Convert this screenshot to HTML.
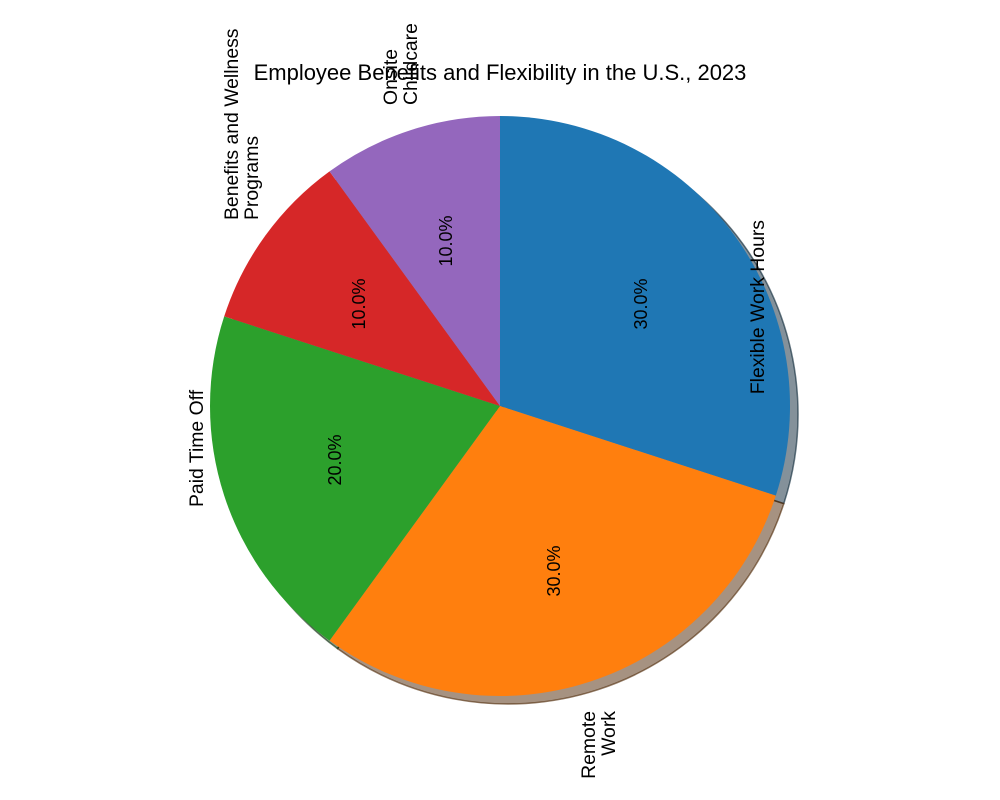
<!DOCTYPE html>
<html><head><meta charset="utf-8"><style>
html,body{margin:0;padding:0;background:#fff;}
#wrap{position:relative;width:1000px;height:800px;font-family:"Liberation Sans",Arial,sans-serif;overflow:hidden;}
.anc{position:absolute;width:0;height:0;}
.lbl{position:absolute;left:0;writing-mode:vertical-rl;white-space:pre;font-size:19.4px;line-height:20px;color:#000;}
.pct{font-size:18px;}
#title{position:absolute;left:0;width:1000px;top:60px;text-align:center;font-size:22px;}
</style></head><body>
<div id="wrap">
<svg id="svg" width="1000" height="800" style="position:absolute;left:0;top:0"></svg>
<div id="title">Employee Benefits and Flexibility in the U.S., 2023</div>
</div>
<script>
const categories = ["Flexible Work Hours", "Remote\nWork", "Paid Time Off", "Benefits and Wellness\nPrograms", "Onsite\nChildcare"];
const values = [30, 30, 20, 10, 10];
const colors = ["#1f77b4", "#ff7f0e", "#2ca02c", "#d62728", "#9467bd"];

const cx = 500, cy = 406, R = 290;
const svg = document.getElementById('svg');
const wrap = document.getElementById('wrap');
const NS = 'http://www.w3.org/2000/svg';
const total = values.reduce((a, b) => a + b, 0);
function pt(a, r, ox, oy) { return [cx + ox + r * Math.cos(a * Math.PI / 180), cy + oy - r * Math.sin(a * Math.PI / 180)]; }
function wedgePath(a0, a1, ox, oy) {
  const p0 = pt(a0, R, ox, oy), p1 = pt(a1, R, ox, oy);
  const large = (a0 - a1) > 180 ? 1 : 0;
  return `M${cx + ox},${cy + oy} L${p0[0]},${p0[1]} A${R},${R} 0 ${large} 1 ${p1[0]},${p1[1]} Z`;
}
function darker(hex) {
  const n = parseInt(hex.slice(1), 16);
  const r = Math.round(((n >> 16) & 255) * 0.3), g = Math.round(((n >> 8) & 255) * 0.3), b = Math.round((n & 255) * 0.3);
  return `rgb(${r},${g},${b})`;
}
function slices() {
  let a = 90; const out = [];
  values.forEach((v, i) => { const sweep = v / total * 360; out.push([a, a - sweep]); a -= sweep; });
  return out;
}
const sl = slices();
sl.forEach((s, i) => {
  const p = document.createElementNS(NS, 'path');
  p.setAttribute('d', wedgePath(s[0], s[1], 8, 8));
  p.setAttribute('fill', darker(colors[i]));
  p.setAttribute('fill-opacity', '0.5');
  p.setAttribute('stroke', darker(colors[i]));
  p.setAttribute('stroke-opacity', '0.6');
  p.setAttribute('stroke-width', '1.5');
  
  
  svg.appendChild(p);
});
sl.forEach((s, i) => {
  const p = document.createElementNS(NS, 'path');
  p.setAttribute('d', wedgePath(s[0], s[1], 0, 0));
  p.setAttribute('fill', colors[i]);
  
  
  svg.appendChild(p);
});
function addText(text, x, y, mode, cls, name, align) {
  const a = document.createElement('div');
  a.className = 'anc';
  a.style.left = x + 'px'; a.style.top = y + 'px';
  
  
  const d = document.createElement('div');
  d.className = 'lbl ' + cls;
  d.textContent = text;
  d.style.textAlign = align;
  let ty = mode === 'top' ? '0' : mode === 'bottom' ? '-100%' : '-50%';
  d.style.transform = `translate(-50%, ${ty}) rotate(180deg)`;
  
  
  a.appendChild(d);
  wrap.appendChild(a);
}
sl.forEach((s, i) => {
  const mid = (s[0] + s[1]) / 2;
  const lp = pt(mid, R * 1.1, 0, 0);
  const right = Math.cos(mid * Math.PI / 180) > 0;
  addText(categories[i], lp[0], lp[1] + (right ? 2 : 2), right ? 'top' : 'bottom', '', 'slice-label', right ? 'end' : 'start');
  const pp = pt(mid, R * 0.6, 0, 0);
  addText((values[i] / total * 100).toFixed(1) + '%', pp[0], pp[1], 'center', 'pct', 'percent-label', 'center');
});
</script>
</body></html>
